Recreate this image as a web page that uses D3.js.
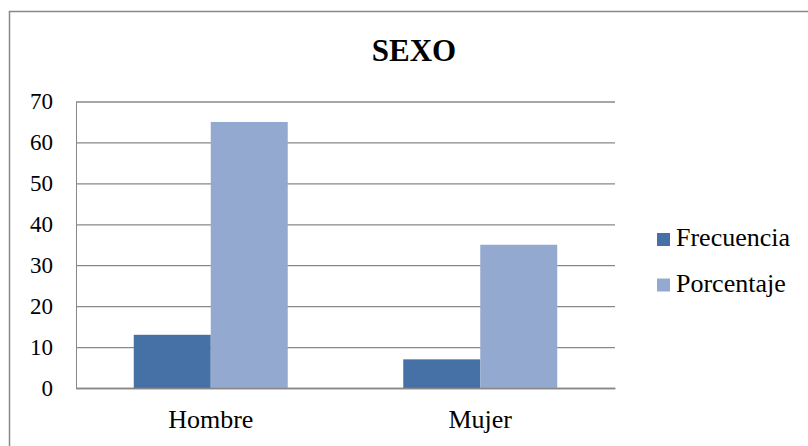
<!DOCTYPE html>
<html>
<head>
<meta charset="utf-8">
<script src="https://cdn.jsdelivr.net/npm/d3@7"></script>
<style>
	body { margin: 0; background: #fff; }
	svg { display: block; }
</style>
</head>
<body>
<div id="chartDiv"></div>
<script>
;(function() {

	const categories = ["Hombre", "Mujer"];
	const seriesNames = ["Frecuencia", "Porcentaje"];
	const frecuencia = [13, 7];
	const porcentaje = [65, 35];
	const yTicks = [0, 10, 20, 30, 40, 50, 60, 70];

	const COLORS = ["#4571a6", "#94a9d0"];
	const FONT = "Liberation Serif";

	var width = 808;
	var height = 446;
	var plot = { left: 76, right: 615, top: 101.5, bottom: 388 };

	var chart = d3.select("#chartDiv").append("svg")
		.attr("width", width)
		.attr("height", height);

	// outer frame (right and bottom edges fall outside the picture)
	chart.append("rect")
		.attr("x", 9.5)
		.attr("y", 11.5)
		.attr("width", 830)
		.attr("height", 460)
		.attr("fill", "#fff")
		.attr("stroke", "#888")
		.attr("stroke-width", 1.5);

	// title
	chart.append("text")
		.attr("x", 414)
		.attr("y", 61)
		.attr("text-anchor", "middle")
		.style("font-size", "31px")
		.style("font-weight", "bold")
		.text("SEXO");

	var xScale = d3.scaleBand()
		.domain(categories)
		.range([plot.left, plot.right])
		.paddingInner(0.4286)
		.paddingOuter(0.2143);

	var xSub = d3.scaleBand()
		.domain(seriesNames)
		.range([0, xScale.bandwidth()]);

	var yScale = d3.scaleLinear()
		.domain([0, 70])
		.range([plot.bottom, plot.top]);

	// gridlines + y labels
	var yAxis = d3.axisLeft(yScale)
		.tickValues(yTicks)
		.tickSize(-(plot.right - plot.left))
		.tickSizeOuter(0)
		.tickPadding(23)
		.tickFormat(d3.format("d"));

	var yAxisG = chart.append("g")
		.attr("transform", "translate(" + plot.left + ",0)")
		.call(yAxis);
	yAxisG.select(".domain").attr("stroke", "#888");
	yAxisG.selectAll(".tick line")
		.attr("stroke", "#888")
		.attr("stroke-width", 1.3);
	yAxisG.selectAll(".tick text")
		.attr("fill", "#000")
		.style("font-size", "23px");

	// bars
	var rows = categories.map((c, i) => ({ cat: c, values: [frecuencia[i], porcentaje[i]] }));

	var groups = chart.append("g").selectAll("g")
		.data(rows)
		.enter().append("g")
			.attr("transform", d => "translate(" + xScale(d.cat) + ",0)");

	groups.selectAll("rect")
		.data(d => d.values.map((v, j) => ({ name: seriesNames[j], value: v, idx: j })))
		.enter().append("rect")
			.attr("x", d => xSub(d.name))
			.attr("y", d => yScale(d.value))
			.attr("width", xSub.bandwidth())
			.attr("height", d => yScale(0) - yScale(d.value))
			.attr("fill", d => COLORS[d.idx]);

	// x axis
	var xAxis = d3.axisBottom(xScale)
		.tickSize(0)
		.tickPadding(22);

	var xAxisG = chart.append("g")
		.attr("transform", "translate(0," + plot.bottom + ")")
		.call(xAxis);
	xAxisG.select(".domain")
		.attr("stroke", "#888")
		.attr("stroke-width", 1.3);
	xAxisG.selectAll(".tick text")
		.attr("fill", "#000")
		.style("font-size", "26px");

	// legend
	var legend = chart.append("g").selectAll("g")
		.data(seriesNames)
		.enter().append("g")
			.attr("transform", (d, i) => "translate(657," + (233 + i * 45.5) + ")");

	legend.append("rect")
		.attr("width", 13)
		.attr("height", 13)
		.attr("fill", (d, i) => COLORS[i]);

	legend.append("text")
		.attr("x", 19)
		.attr("y", 13)
		.style("font-size", "26px")
		.text(d => d);

	// every label in the serif face
	chart.selectAll("g").attr("font-family", FONT);
	chart.selectAll("text").style("font-family", FONT);

})();
</script>
</body>
</html>
